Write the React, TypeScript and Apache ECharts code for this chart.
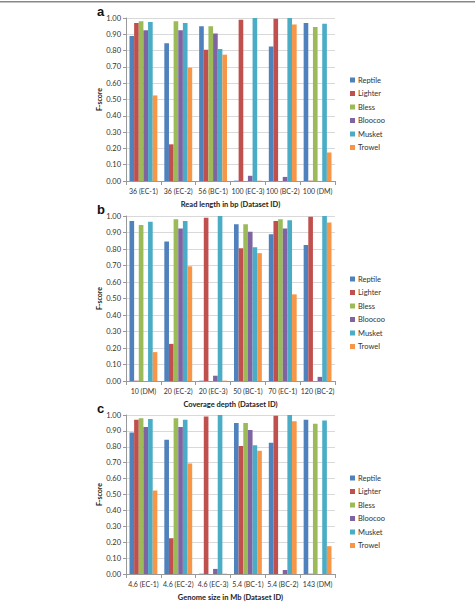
import React, { useEffect, useRef } from "react";
import * as echarts from "echarts";

// F-score of each error-correction tool, per dataset
const datasetIds = ["EC-1", "EC-2", "EC-3", "BC-1", "BC-2", "DM"];
const tools = ["Reptile", "Lighter", "Bless", "Bloocoo", "Musket", "Trowel"];
const reptile = [0.89, 0.845, 0.002, 0.95, 0.825, 0.97];
const lighter = [0.97, 0.225, 0.99, 0.805, 0.995, 0.002];
const bless = [0.98, 0.98, 0.0, 0.95, 0.0, 0.945];
const bloocoo = [0.925, 0.925, 0.032, 0.905, 0.025, 0.0];
const musket = [0.975, 0.97, 1.0, 0.81, 1.0, 0.965];
const trowel = [0.525, 0.695, 0.002, 0.775, 0.96, 0.175];

// Panel category orders and labels
const readLengthOrder = ["EC-1", "EC-2", "BC-1", "EC-3", "BC-2", "DM"];
const readLengthLabels = ["36 (EC-1)", "36 (EC-2)", "56 (BC-1)", "100 (EC-3)", "100 (BC-2)", "100 (DM)"];
const coverageOrder = ["DM", "EC-2", "EC-3", "BC-1", "EC-1", "BC-2"];
const coverageLabels = ["10 (DM)", "20 (EC-2)", "20 (EC-3)", "50 (BC-1)", "70 (EC-1)", "120 (BC-2)"];
const genomeOrder = ["EC-1", "EC-2", "EC-3", "BC-1", "BC-2", "DM"];
const genomeLabels = ["4.6 (EC-1)", "4.6 (EC-2)", "4.6 (EC-3)", "5.4 (BC-1)", "5.4 (BC-2)", "143 (DM)"];
const yTicks = [0, 0.1, 0.2, 0.3, 0.4, 0.5, 0.6, 0.7, 0.8, 0.9, 1.0];

const toolValues = [reptile, lighter, bless, bloocoo, musket, trowel];
const colors = ["#4F81BD", "#C0504D", "#9BBB59", "#8064A2", "#4BACC6", "#F79646"];

const panels = [
  { letter: "a", order: readLengthOrder, labels: readLengthLabels, title: "Read length in bp (Dataset ID)", top: 18, height: 163, legendTop: 75 },
  { letter: "b", order: coverageOrder, labels: coverageLabels, title: "Coverage depth (Dataset ID)", top: 216, height: 165, legendTop: 274 },
  { letter: "c", order: genomeOrder, labels: genomeLabels, title: "Genome size in Mb (Dataset ID)", top: 415, height: 164, legendTop: 473 },
];

const FONT = "Lato, 'Noto Sans', sans-serif";

export default function App() {
  const ref = useRef<HTMLDivElement>(null);

  useEffect(() => {
    document.body.style.margin = "0";
    const chart = echarts.init(ref.current!, null, { renderer: "svg" });

    const grids = panels.map((p) => ({ left: 126, right: 140, top: p.top, height: p.height }));
    const xAxes = panels.map((p, i) => ({
      type: "category",
      gridIndex: i,
      data: p.labels,
      name: p.title,
      nameLocation: "middle",
      nameGap: 19,
      nameTextStyle: { fontSize: 7.5, fontWeight: "bold", color: "#222", fontFamily: FONT },
      axisLine: { lineStyle: { color: "#999", width: 1 } },
      axisTick: { show: true, length: 4, lineStyle: { color: "#999" } },
      axisLabel: { fontSize: 7, color: "#333", margin: 6, fontFamily: FONT, interval: 0 },
    }));
    const yAxes = panels.map((p, i) => ({
      type: "value",
      gridIndex: i,
      min: 0,
      max: 1,
      interval: 0.1,
      name: "F-score",
      nameLocation: "middle",
      nameGap: 24,
      nameTextStyle: { fontSize: 7, fontWeight: "bold", color: "#222", fontFamily: FONT },
      axisLine: { show: true, lineStyle: { color: "#999" } },
      axisTick: { show: true, length: 3, lineStyle: { color: "#999" } },
      axisLabel: {
        fontSize: 7.5,
        color: "#333",
        margin: 5,
        fontFamily: FONT,
        formatter: (v: number) => (yTicks.some((t) => Math.abs(t - v) < 1e-6) ? v.toFixed(2) : ""),
      },
      splitLine: { lineStyle: { color: "#d9d9d9", width: 1 } },
    }));

    const series: any[] = [];
    panels.forEach((p, pi) => {
      tools.forEach((tool, ti) => {
        series.push({
          type: "bar",
          name: tool,
          xAxisIndex: pi,
          yAxisIndex: pi,
          data: p.order.map((id) => toolValues[ti][datasetIds.indexOf(id)]),
          itemStyle: { color: colors[ti] },
          barGap: "0%",
          barCategoryGap: "20%",
        });
      });
    });

    const legends = panels.map((p) => ({
      data: tools,
      orient: "vertical",
      left: 345,
      top: p.legendTop - 4,
      itemWidth: 5,
      itemHeight: 5,
      itemGap: 5.5,
      icon: "rect",
      textStyle: { fontSize: 7.5, color: "#333", fontFamily: FONT, padding: [0, 0, 0, -2] },
    }));

    const graphic: any[] = [
      { type: "rect", shape: { x: 0, y: 1, width: 475, height: 1.5 }, style: { fill: "#888" } },
      ...panels.map((p) => ({
        type: "text",
        x: 97,
        y: p.top - 13,
        style: { text: p.letter, fontSize: 13, fontWeight: "bold", fill: "#111", fontFamily: "'Liberation Sans', Arial, sans-serif" },
      })),
    ];

    chart.setOption({
      animation: false,
      backgroundColor: "#fff",
      grid: grids,
      xAxis: xAxes,
      yAxis: yAxes,
      legend: legends,
      series,
      graphic,
    });
    return () => chart.dispose();
  }, []);

  return <div ref={ref} style={{ width: 475, height: 602 }} />;
}
